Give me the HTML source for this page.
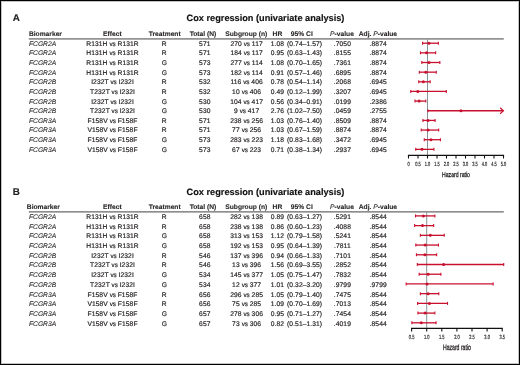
<!DOCTYPE html>
<html><head><meta charset="utf-8"><style>
html,body{margin:0;padding:0;background:#fff;}
body{width:520px;height:365px;overflow:hidden;}
svg{display:block;will-change:transform;}
text{font-family:"Liberation Sans",sans-serif;fill:#231f20;text-rendering:geometricPrecision;}
.lab{text-rendering:geometricPrecision;font-size:9.8px;font-weight:bold;stroke:#231f20;stroke-width:0.2px;}
.ttl{font-size:9.2px;font-weight:bold;fill:#111;stroke:#111;stroke-width:0.15px;}
.h{font-size:6.7px;font-weight:bold;stroke:#231f20;stroke-width:0.1px;}
.d{font-size:6.7px;letter-spacing:0.08px;stroke:#231f20;stroke-width:0.18px;}
.vs{font-size:6.3px;letter-spacing:-0.1px;}
.tk{font-size:6.0px;stroke:#231f20;stroke-width:0.2px;}
.hz{font-size:6.8px;stroke:#231f20;stroke-width:0.3px;}
</style></head><body>
<svg width="520" height="365" viewBox="0 0 520 365">
<rect x="0" y="0" width="520" height="365" fill="#fff"/>
<text x="12.8" y="20.60" class="lab">A</text>
<text x="186.6" y="20.80" class="ttl">Cox regression (univariate analysis)</text>
<text x="28.9" y="35.85" class="h">Biomarker</text>
<text x="112.4" y="35.85" class="h" text-anchor="middle">Effect</text>
<text x="164.7" y="35.85" class="h" text-anchor="middle">Treatment</text>
<text x="203.0" y="35.85" class="h" text-anchor="middle">Total (N)</text>
<text x="246.3" y="35.85" class="h" text-anchor="middle">Subgroup (n)</text>
<text x="277.4" y="35.85" class="h" text-anchor="middle">HR</text>
<text x="301.8" y="35.85" class="h" text-anchor="middle">95% CI</text>
<text x="342.0" y="35.85" class="h" text-anchor="middle"><tspan font-style="italic" font-weight="normal">P</tspan>-value</text>
<text x="377.9" y="35.85" class="h" text-anchor="middle">Adj. <tspan font-style="italic" font-weight="normal">P</tspan>-value</text>
<rect x="28.8" y="38.15" width="475.00" height="1.5" fill="#828282"/>
<rect x="427.00" y="39.40" width="1.0" height="115.90" fill="#85939a"/>
<text x="29" y="45.80" class="d" style="letter-spacing:0;stroke-width:0.08px" font-style="italic">FCGR2A</text>
<text x="112.5" y="45.80" class="d" text-anchor="middle">R131H <tspan class="vs">vs</tspan> R131R</text>
<text x="164.3" y="45.80" class="d" text-anchor="middle">R</text>
<text x="204.8" y="45.80" class="d" text-anchor="middle">571</text>
<text x="246.6" y="45.80" class="d" text-anchor="middle">270 <tspan class="vs">vs</tspan> 117</text>
<text x="277.5" y="45.80" class="d" text-anchor="middle">1.08</text>
<text x="304.6" y="45.80" class="d" text-anchor="middle">(0.74–1.57)</text>
<text x="342.4" y="45.80" class="d" text-anchor="middle">.7050</text>
<text x="378.2" y="45.80" class="d" text-anchor="middle">.8874</text>
<line x1="422.56" y1="43.20" x2="438.33" y2="43.20" stroke="#c8102e" stroke-width="1.3"/>
<line x1="422.56" y1="41.70" x2="422.56" y2="44.70" stroke="#c8102e" stroke-width="1.1"/>
<line x1="438.33" y1="41.70" x2="438.33" y2="44.70" stroke="#c8102e" stroke-width="1.1"/>
<circle cx="429.02" cy="43.20" r="1.5" fill="#c8102e"/>
<text x="29" y="55.42" class="d" style="letter-spacing:0;stroke-width:0.08px" font-style="italic">FCGR2A</text>
<text x="112.5" y="55.42" class="d" text-anchor="middle">H131H <tspan class="vs">vs</tspan> R131R</text>
<text x="164.3" y="55.42" class="d" text-anchor="middle">R</text>
<text x="204.8" y="55.42" class="d" text-anchor="middle">571</text>
<text x="246.6" y="55.42" class="d" text-anchor="middle">184 <tspan class="vs">vs</tspan> 117</text>
<text x="277.5" y="55.42" class="d" text-anchor="middle">0.95</text>
<text x="304.6" y="55.42" class="d" text-anchor="middle">(0.63–1.43)</text>
<text x="342.4" y="55.42" class="d" text-anchor="middle">.8155</text>
<text x="378.2" y="55.42" class="d" text-anchor="middle">.8874</text>
<line x1="420.47" y1="52.85" x2="435.67" y2="52.85" stroke="#c8102e" stroke-width="1.3"/>
<line x1="420.47" y1="51.35" x2="420.47" y2="54.35" stroke="#c8102e" stroke-width="1.1"/>
<line x1="435.67" y1="51.35" x2="435.67" y2="54.35" stroke="#c8102e" stroke-width="1.1"/>
<circle cx="426.55" cy="52.85" r="1.5" fill="#c8102e"/>
<text x="29" y="65.04" class="d" style="letter-spacing:0;stroke-width:0.08px" font-style="italic">FCGR2A</text>
<text x="112.5" y="65.04" class="d" text-anchor="middle">R131H <tspan class="vs">vs</tspan> R131R</text>
<text x="164.3" y="65.04" class="d" text-anchor="middle">G</text>
<text x="204.8" y="65.04" class="d" text-anchor="middle">573</text>
<text x="246.6" y="65.04" class="d" text-anchor="middle">277 <tspan class="vs">vs</tspan> 114</text>
<text x="277.5" y="65.04" class="d" text-anchor="middle">1.08</text>
<text x="304.6" y="65.04" class="d" text-anchor="middle">(0.70–1.65)</text>
<text x="342.4" y="65.04" class="d" text-anchor="middle">.7361</text>
<text x="378.2" y="65.04" class="d" text-anchor="middle">.8874</text>
<line x1="421.80" y1="62.50" x2="439.85" y2="62.50" stroke="#c8102e" stroke-width="1.3"/>
<line x1="421.80" y1="61.00" x2="421.80" y2="64.00" stroke="#c8102e" stroke-width="1.1"/>
<line x1="439.85" y1="61.00" x2="439.85" y2="64.00" stroke="#c8102e" stroke-width="1.1"/>
<circle cx="429.02" cy="62.50" r="1.5" fill="#c8102e"/>
<text x="29" y="74.66" class="d" style="letter-spacing:0;stroke-width:0.08px" font-style="italic">FCGR2A</text>
<text x="112.5" y="74.66" class="d" text-anchor="middle">H131H <tspan class="vs">vs</tspan> R131R</text>
<text x="164.3" y="74.66" class="d" text-anchor="middle">G</text>
<text x="204.8" y="74.66" class="d" text-anchor="middle">573</text>
<text x="246.6" y="74.66" class="d" text-anchor="middle">182 <tspan class="vs">vs</tspan> 114</text>
<text x="277.5" y="74.66" class="d" text-anchor="middle">0.91</text>
<text x="304.6" y="74.66" class="d" text-anchor="middle">(0.57–1.46)</text>
<text x="342.4" y="74.66" class="d" text-anchor="middle">.6895</text>
<text x="378.2" y="74.66" class="d" text-anchor="middle">.8874</text>
<line x1="419.33" y1="72.15" x2="436.24" y2="72.15" stroke="#c8102e" stroke-width="1.3"/>
<line x1="419.33" y1="70.65" x2="419.33" y2="73.65" stroke="#c8102e" stroke-width="1.1"/>
<line x1="436.24" y1="70.65" x2="436.24" y2="73.65" stroke="#c8102e" stroke-width="1.1"/>
<circle cx="425.79" cy="72.15" r="1.5" fill="#c8102e"/>
<text x="29" y="84.28" class="d" style="letter-spacing:0;stroke-width:0.08px" font-style="italic">FCGR2B</text>
<text x="112.5" y="84.28" class="d" text-anchor="middle">I232T <tspan class="vs">vs</tspan> I232I</text>
<text x="164.3" y="84.28" class="d" text-anchor="middle">R</text>
<text x="204.8" y="84.28" class="d" text-anchor="middle">532</text>
<text x="246.6" y="84.28" class="d" text-anchor="middle">116 <tspan class="vs">vs</tspan> 406</text>
<text x="277.5" y="84.28" class="d" text-anchor="middle">0.78</text>
<text x="304.6" y="84.28" class="d" text-anchor="middle">(0.54–1.14)</text>
<text x="342.4" y="84.28" class="d" text-anchor="middle">.2068</text>
<text x="378.2" y="84.28" class="d" text-anchor="middle">.6945</text>
<line x1="418.76" y1="81.80" x2="430.16" y2="81.80" stroke="#c8102e" stroke-width="1.3"/>
<line x1="418.76" y1="80.30" x2="418.76" y2="83.30" stroke="#c8102e" stroke-width="1.1"/>
<line x1="430.16" y1="80.30" x2="430.16" y2="83.30" stroke="#c8102e" stroke-width="1.1"/>
<circle cx="423.32" cy="81.80" r="1.5" fill="#c8102e"/>
<text x="29" y="93.90" class="d" style="letter-spacing:0;stroke-width:0.08px" font-style="italic">FCGR2B</text>
<text x="112.5" y="93.90" class="d" text-anchor="middle">T232T <tspan class="vs">vs</tspan> I232I</text>
<text x="164.3" y="93.90" class="d" text-anchor="middle">R</text>
<text x="204.8" y="93.90" class="d" text-anchor="middle">532</text>
<text x="246.6" y="93.90" class="d" text-anchor="middle">10 <tspan class="vs">vs</tspan> 406</text>
<text x="277.5" y="93.90" class="d" text-anchor="middle">0.49</text>
<text x="304.6" y="93.90" class="d" text-anchor="middle">(0.12–1.99)</text>
<text x="342.4" y="93.90" class="d" text-anchor="middle">.3207</text>
<text x="378.2" y="93.90" class="d" text-anchor="middle">.6945</text>
<line x1="410.78" y1="91.45" x2="446.31" y2="91.45" stroke="#c8102e" stroke-width="1.3"/>
<line x1="410.78" y1="89.95" x2="410.78" y2="92.95" stroke="#c8102e" stroke-width="1.1"/>
<line x1="446.31" y1="89.95" x2="446.31" y2="92.95" stroke="#c8102e" stroke-width="1.1"/>
<circle cx="417.81" cy="91.45" r="1.5" fill="#c8102e"/>
<text x="29" y="103.52" class="d" style="letter-spacing:0;stroke-width:0.08px" font-style="italic">FCGR2B</text>
<text x="112.5" y="103.52" class="d" text-anchor="middle">I232T <tspan class="vs">vs</tspan> I232I</text>
<text x="164.3" y="103.52" class="d" text-anchor="middle">G</text>
<text x="204.8" y="103.52" class="d" text-anchor="middle">530</text>
<text x="246.6" y="103.52" class="d" text-anchor="middle">104 <tspan class="vs">vs</tspan> 417</text>
<text x="277.5" y="103.52" class="d" text-anchor="middle">0.56</text>
<text x="304.6" y="103.52" class="d" text-anchor="middle">(0.34–0.91)</text>
<text x="342.4" y="103.52" class="d" text-anchor="middle">.0199</text>
<text x="378.2" y="103.52" class="d" text-anchor="middle">.2386</text>
<line x1="414.96" y1="101.10" x2="425.79" y2="101.10" stroke="#c8102e" stroke-width="1.3"/>
<line x1="414.96" y1="99.60" x2="414.96" y2="102.60" stroke="#c8102e" stroke-width="1.1"/>
<line x1="425.79" y1="99.60" x2="425.79" y2="102.60" stroke="#c8102e" stroke-width="1.1"/>
<circle cx="419.14" cy="101.10" r="1.5" fill="#c8102e"/>
<text x="29" y="113.14" class="d" style="letter-spacing:0;stroke-width:0.08px" font-style="italic">FCGR2B</text>
<text x="112.5" y="113.14" class="d" text-anchor="middle">T232T <tspan class="vs">vs</tspan> I232I</text>
<text x="164.3" y="113.14" class="d" text-anchor="middle">G</text>
<text x="204.8" y="113.14" class="d" text-anchor="middle">530</text>
<text x="246.6" y="113.14" class="d" text-anchor="middle">9 <tspan class="vs">vs</tspan> 417</text>
<text x="277.5" y="113.14" class="d" text-anchor="middle">2.76</text>
<text x="304.6" y="113.14" class="d" text-anchor="middle">(1.02–7.50)</text>
<text x="342.4" y="113.14" class="d" text-anchor="middle">.0459</text>
<text x="378.2" y="113.14" class="d" text-anchor="middle">.2755</text>
<line x1="427.88" y1="110.75" x2="503.20" y2="110.75" stroke="#c8102e" stroke-width="1.3"/>
<path d="M500.10,107.75 L503.50,110.75 L500.10,113.75" fill="none" stroke="#c8102e" stroke-width="1.1"/>
<line x1="427.88" y1="109.25" x2="427.88" y2="112.25" stroke="#c8102e" stroke-width="1.1"/>
<circle cx="460.94" cy="110.75" r="1.5" fill="#c8102e"/>
<text x="29" y="122.76" class="d" style="letter-spacing:0;stroke-width:0.08px" font-style="italic">FCGR3A</text>
<text x="112.5" y="122.76" class="d" text-anchor="middle">F158V <tspan class="vs">vs</tspan> F158F</text>
<text x="164.3" y="122.76" class="d" text-anchor="middle">R</text>
<text x="204.8" y="122.76" class="d" text-anchor="middle">571</text>
<text x="246.6" y="122.76" class="d" text-anchor="middle">238 <tspan class="vs">vs</tspan> 256</text>
<text x="277.5" y="122.76" class="d" text-anchor="middle">1.03</text>
<text x="304.6" y="122.76" class="d" text-anchor="middle">(0.76–1.40)</text>
<text x="342.4" y="122.76" class="d" text-anchor="middle">.8509</text>
<text x="378.2" y="122.76" class="d" text-anchor="middle">.8874</text>
<line x1="422.94" y1="120.40" x2="435.10" y2="120.40" stroke="#c8102e" stroke-width="1.3"/>
<line x1="422.94" y1="118.90" x2="422.94" y2="121.90" stroke="#c8102e" stroke-width="1.1"/>
<line x1="435.10" y1="118.90" x2="435.10" y2="121.90" stroke="#c8102e" stroke-width="1.1"/>
<circle cx="428.07" cy="120.40" r="1.5" fill="#c8102e"/>
<text x="29" y="132.38" class="d" style="letter-spacing:0;stroke-width:0.08px" font-style="italic">FCGR3A</text>
<text x="112.5" y="132.38" class="d" text-anchor="middle">V158V <tspan class="vs">vs</tspan> F158F</text>
<text x="164.3" y="132.38" class="d" text-anchor="middle">R</text>
<text x="204.8" y="132.38" class="d" text-anchor="middle">571</text>
<text x="246.6" y="132.38" class="d" text-anchor="middle">77 <tspan class="vs">vs</tspan> 256</text>
<text x="277.5" y="132.38" class="d" text-anchor="middle">1.03</text>
<text x="304.6" y="132.38" class="d" text-anchor="middle">(0.67–1.59)</text>
<text x="342.4" y="132.38" class="d" text-anchor="middle">.8874</text>
<text x="378.2" y="132.38" class="d" text-anchor="middle">.8874</text>
<line x1="421.23" y1="130.05" x2="438.71" y2="130.05" stroke="#c8102e" stroke-width="1.3"/>
<line x1="421.23" y1="128.55" x2="421.23" y2="131.55" stroke="#c8102e" stroke-width="1.1"/>
<line x1="438.71" y1="128.55" x2="438.71" y2="131.55" stroke="#c8102e" stroke-width="1.1"/>
<circle cx="428.07" cy="130.05" r="1.5" fill="#c8102e"/>
<text x="29" y="142.00" class="d" style="letter-spacing:0;stroke-width:0.08px" font-style="italic">FCGR3A</text>
<text x="112.5" y="142.00" class="d" text-anchor="middle">F158V <tspan class="vs">vs</tspan> F158F</text>
<text x="164.3" y="142.00" class="d" text-anchor="middle">G</text>
<text x="204.8" y="142.00" class="d" text-anchor="middle">573</text>
<text x="246.6" y="142.00" class="d" text-anchor="middle">283 <tspan class="vs">vs</tspan> 223</text>
<text x="277.5" y="142.00" class="d" text-anchor="middle">1.18</text>
<text x="304.6" y="142.00" class="d" text-anchor="middle">(0.83–1.68)</text>
<text x="342.4" y="142.00" class="d" text-anchor="middle">.3472</text>
<text x="378.2" y="142.00" class="d" text-anchor="middle">.6945</text>
<line x1="424.27" y1="139.70" x2="440.42" y2="139.70" stroke="#c8102e" stroke-width="1.3"/>
<line x1="424.27" y1="138.20" x2="424.27" y2="141.20" stroke="#c8102e" stroke-width="1.1"/>
<line x1="440.42" y1="138.20" x2="440.42" y2="141.20" stroke="#c8102e" stroke-width="1.1"/>
<circle cx="430.92" cy="139.70" r="1.5" fill="#c8102e"/>
<text x="29" y="151.62" class="d" style="letter-spacing:0;stroke-width:0.08px" font-style="italic">FCGR3A</text>
<text x="112.5" y="151.62" class="d" text-anchor="middle">V158V <tspan class="vs">vs</tspan> F158F</text>
<text x="164.3" y="151.62" class="d" text-anchor="middle">G</text>
<text x="204.8" y="151.62" class="d" text-anchor="middle">573</text>
<text x="246.6" y="151.62" class="d" text-anchor="middle">67 <tspan class="vs">vs</tspan> 223</text>
<text x="277.5" y="151.62" class="d" text-anchor="middle">0.71</text>
<text x="304.6" y="151.62" class="d" text-anchor="middle">(0.38–1.34)</text>
<text x="342.4" y="151.62" class="d" text-anchor="middle">.2937</text>
<text x="378.2" y="151.62" class="d" text-anchor="middle">.6945</text>
<line x1="415.72" y1="149.35" x2="433.96" y2="149.35" stroke="#c8102e" stroke-width="1.3"/>
<line x1="415.72" y1="147.85" x2="415.72" y2="150.85" stroke="#c8102e" stroke-width="1.1"/>
<line x1="433.96" y1="147.85" x2="433.96" y2="150.85" stroke="#c8102e" stroke-width="1.1"/>
<circle cx="421.99" cy="149.35" r="1.5" fill="#c8102e"/>
<line x1="407.90" y1="155.30" x2="504.10" y2="155.30" stroke="#111" stroke-width="1.3"/>
<line x1="408.50" y1="155.30" x2="408.50" y2="158.50" stroke="#111" stroke-width="1.1"/>
<text transform="translate(408.50,166.10) scale(0.66,1)" class="tk" text-anchor="middle">0</text>
<line x1="418.00" y1="155.30" x2="418.00" y2="158.50" stroke="#111" stroke-width="1.1"/>
<text transform="translate(418.00,166.10) scale(0.66,1)" class="tk" text-anchor="middle">0.5</text>
<line x1="427.50" y1="155.30" x2="427.50" y2="158.50" stroke="#111" stroke-width="1.1"/>
<text transform="translate(427.50,166.10) scale(0.66,1)" class="tk" text-anchor="middle">1.0</text>
<line x1="437.00" y1="155.30" x2="437.00" y2="158.50" stroke="#111" stroke-width="1.1"/>
<text transform="translate(437.00,166.10) scale(0.66,1)" class="tk" text-anchor="middle">1.5</text>
<line x1="446.50" y1="155.30" x2="446.50" y2="158.50" stroke="#111" stroke-width="1.1"/>
<text transform="translate(446.50,166.10) scale(0.66,1)" class="tk" text-anchor="middle">2.0</text>
<line x1="456.00" y1="155.30" x2="456.00" y2="158.50" stroke="#111" stroke-width="1.1"/>
<text transform="translate(456.00,166.10) scale(0.66,1)" class="tk" text-anchor="middle">2.5</text>
<line x1="465.50" y1="155.30" x2="465.50" y2="158.50" stroke="#111" stroke-width="1.1"/>
<text transform="translate(465.50,166.10) scale(0.66,1)" class="tk" text-anchor="middle">3.0</text>
<line x1="475.00" y1="155.30" x2="475.00" y2="158.50" stroke="#111" stroke-width="1.1"/>
<text transform="translate(475.00,166.10) scale(0.66,1)" class="tk" text-anchor="middle">3.5</text>
<line x1="484.50" y1="155.30" x2="484.50" y2="158.50" stroke="#111" stroke-width="1.1"/>
<text transform="translate(484.50,166.10) scale(0.66,1)" class="tk" text-anchor="middle">4.0</text>
<line x1="494.00" y1="155.30" x2="494.00" y2="158.50" stroke="#111" stroke-width="1.1"/>
<text transform="translate(494.00,166.10) scale(0.66,1)" class="tk" text-anchor="middle">4.5</text>
<line x1="503.50" y1="155.30" x2="503.50" y2="158.50" stroke="#111" stroke-width="1.1"/>
<text transform="translate(503.50,166.10) scale(0.66,1)" class="tk" text-anchor="middle">5.0</text>
<text transform="translate(456.00,176.80) scale(0.72,1)" class="hz" style="font-size:7.1px" text-anchor="middle">Hazard ratio</text>
<text x="12.8" y="194.70" class="lab">B</text>
<text x="186.6" y="194.90" class="ttl">Cox regression (univariate analysis)</text>
<text x="26.8" y="209.45" class="h">Biomarker</text>
<text x="112.4" y="209.45" class="h" text-anchor="middle">Effect</text>
<text x="164.7" y="209.45" class="h" text-anchor="middle">Treatment</text>
<text x="203.0" y="209.45" class="h" text-anchor="middle">Total (N)</text>
<text x="246.3" y="209.45" class="h" text-anchor="middle">Subgroup (n)</text>
<text x="277.4" y="209.45" class="h" text-anchor="middle">HR</text>
<text x="301.8" y="209.45" class="h" text-anchor="middle">95% CI</text>
<text x="342.0" y="209.45" class="h" text-anchor="middle"><tspan font-style="italic" font-weight="normal">P</tspan>-value</text>
<text x="377.9" y="209.45" class="h" text-anchor="middle">Adj. <tspan font-style="italic" font-weight="normal">P</tspan>-value</text>
<rect x="28.8" y="211.10" width="475.00" height="1.5" fill="#828282"/>
<rect x="426.20" y="212.35" width="1.0" height="116.05" fill="#85939a"/>
<text x="29" y="219.00" class="d" style="letter-spacing:0;stroke-width:0.08px" font-style="italic">FCGR2A</text>
<text x="112.5" y="219.00" class="d" text-anchor="middle">R131H <tspan class="vs">vs</tspan> R131R</text>
<text x="164.3" y="219.00" class="d" text-anchor="middle">R</text>
<text x="204.8" y="219.00" class="d" text-anchor="middle">658</text>
<text x="246.6" y="219.00" class="d" text-anchor="middle">282 <tspan class="vs">vs</tspan> 138</text>
<text x="277.5" y="219.00" class="d" text-anchor="middle">0.89</text>
<text x="304.6" y="219.00" class="d" text-anchor="middle">(0.63–1.27)</text>
<text x="342.4" y="219.00" class="d" text-anchor="middle">.5291</text>
<text x="378.2" y="219.00" class="d" text-anchor="middle">.8544</text>
<line x1="415.53" y1="215.90" x2="434.85" y2="215.90" stroke="#c8102e" stroke-width="1.3"/>
<line x1="415.53" y1="214.40" x2="415.53" y2="217.40" stroke="#c8102e" stroke-width="1.1"/>
<line x1="434.85" y1="214.40" x2="434.85" y2="217.40" stroke="#c8102e" stroke-width="1.1"/>
<circle cx="423.38" cy="215.90" r="1.5" fill="#c8102e"/>
<text x="29" y="228.69" class="d" style="letter-spacing:0;stroke-width:0.08px" font-style="italic">FCGR2A</text>
<text x="112.5" y="228.69" class="d" text-anchor="middle">H131H <tspan class="vs">vs</tspan> R131R</text>
<text x="164.3" y="228.69" class="d" text-anchor="middle">R</text>
<text x="204.8" y="228.69" class="d" text-anchor="middle">658</text>
<text x="246.6" y="228.69" class="d" text-anchor="middle">238 <tspan class="vs">vs</tspan> 138</text>
<text x="277.5" y="228.69" class="d" text-anchor="middle">0.86</text>
<text x="304.6" y="228.69" class="d" text-anchor="middle">(0.60–1.23)</text>
<text x="342.4" y="228.69" class="d" text-anchor="middle">.4088</text>
<text x="378.2" y="228.69" class="d" text-anchor="middle">.8544</text>
<line x1="414.62" y1="225.62" x2="433.65" y2="225.62" stroke="#c8102e" stroke-width="1.3"/>
<line x1="414.62" y1="224.12" x2="414.62" y2="227.12" stroke="#c8102e" stroke-width="1.1"/>
<line x1="433.65" y1="224.12" x2="433.65" y2="227.12" stroke="#c8102e" stroke-width="1.1"/>
<circle cx="422.47" cy="225.62" r="1.5" fill="#c8102e"/>
<text x="29" y="238.38" class="d" style="letter-spacing:0;stroke-width:0.08px" font-style="italic">FCGR2A</text>
<text x="112.5" y="238.38" class="d" text-anchor="middle">R131H <tspan class="vs">vs</tspan> R131R</text>
<text x="164.3" y="238.38" class="d" text-anchor="middle">G</text>
<text x="204.8" y="238.38" class="d" text-anchor="middle">658</text>
<text x="246.6" y="238.38" class="d" text-anchor="middle">313 <tspan class="vs">vs</tspan> 153</text>
<text x="277.5" y="238.38" class="d" text-anchor="middle">1.12</text>
<text x="304.6" y="238.38" class="d" text-anchor="middle">(0.79–1.58)</text>
<text x="342.4" y="238.38" class="d" text-anchor="middle">.5241</text>
<text x="378.2" y="238.38" class="d" text-anchor="middle">.8544</text>
<line x1="420.36" y1="235.34" x2="444.22" y2="235.34" stroke="#c8102e" stroke-width="1.3"/>
<line x1="420.36" y1="233.84" x2="420.36" y2="236.84" stroke="#c8102e" stroke-width="1.1"/>
<line x1="444.22" y1="233.84" x2="444.22" y2="236.84" stroke="#c8102e" stroke-width="1.1"/>
<circle cx="430.32" cy="235.34" r="1.5" fill="#c8102e"/>
<text x="29" y="248.07" class="d" style="letter-spacing:0;stroke-width:0.08px" font-style="italic">FCGR2A</text>
<text x="112.5" y="248.07" class="d" text-anchor="middle">H131H <tspan class="vs">vs</tspan> R131R</text>
<text x="164.3" y="248.07" class="d" text-anchor="middle">G</text>
<text x="204.8" y="248.07" class="d" text-anchor="middle">658</text>
<text x="246.6" y="248.07" class="d" text-anchor="middle">192 <tspan class="vs">vs</tspan> 153</text>
<text x="277.5" y="248.07" class="d" text-anchor="middle">0.95</text>
<text x="304.6" y="248.07" class="d" text-anchor="middle">(0.64–1.39)</text>
<text x="342.4" y="248.07" class="d" text-anchor="middle">.7811</text>
<text x="378.2" y="248.07" class="d" text-anchor="middle">.8544</text>
<line x1="415.83" y1="245.06" x2="438.48" y2="245.06" stroke="#c8102e" stroke-width="1.3"/>
<line x1="415.83" y1="243.56" x2="415.83" y2="246.56" stroke="#c8102e" stroke-width="1.1"/>
<line x1="438.48" y1="243.56" x2="438.48" y2="246.56" stroke="#c8102e" stroke-width="1.1"/>
<circle cx="425.19" cy="245.06" r="1.5" fill="#c8102e"/>
<text x="29" y="257.76" class="d" style="letter-spacing:0;stroke-width:0.08px" font-style="italic">FCGR2B</text>
<text x="112.5" y="257.76" class="d" text-anchor="middle">I232T <tspan class="vs">vs</tspan> I232I</text>
<text x="164.3" y="257.76" class="d" text-anchor="middle">R</text>
<text x="204.8" y="257.76" class="d" text-anchor="middle">546</text>
<text x="246.6" y="257.76" class="d" text-anchor="middle">137 <tspan class="vs">vs</tspan> 396</text>
<text x="277.5" y="257.76" class="d" text-anchor="middle">0.94</text>
<text x="304.6" y="257.76" class="d" text-anchor="middle">(0.66–1.33)</text>
<text x="342.4" y="257.76" class="d" text-anchor="middle">.7101</text>
<text x="378.2" y="257.76" class="d" text-anchor="middle">.8544</text>
<line x1="416.43" y1="254.78" x2="436.67" y2="254.78" stroke="#c8102e" stroke-width="1.3"/>
<line x1="416.43" y1="253.28" x2="416.43" y2="256.28" stroke="#c8102e" stroke-width="1.1"/>
<line x1="436.67" y1="253.28" x2="436.67" y2="256.28" stroke="#c8102e" stroke-width="1.1"/>
<circle cx="424.89" cy="254.78" r="1.5" fill="#c8102e"/>
<text x="29" y="267.45" class="d" style="letter-spacing:0;stroke-width:0.08px" font-style="italic">FCGR2B</text>
<text x="112.5" y="267.45" class="d" text-anchor="middle">T232T <tspan class="vs">vs</tspan> I232I</text>
<text x="164.3" y="267.45" class="d" text-anchor="middle">R</text>
<text x="204.8" y="267.45" class="d" text-anchor="middle">546</text>
<text x="246.6" y="267.45" class="d" text-anchor="middle">13 <tspan class="vs">vs</tspan> 396</text>
<text x="277.5" y="267.45" class="d" text-anchor="middle">1.56</text>
<text x="304.6" y="267.45" class="d" text-anchor="middle">(0.69–3.55)</text>
<text x="342.4" y="267.45" class="d" text-anchor="middle">.2852</text>
<text x="378.2" y="267.45" class="d" text-anchor="middle">.8544</text>
<line x1="417.34" y1="264.50" x2="503.71" y2="264.50" stroke="#c8102e" stroke-width="1.3"/>
<line x1="417.34" y1="263.00" x2="417.34" y2="266.00" stroke="#c8102e" stroke-width="1.1"/>
<line x1="503.71" y1="263.00" x2="503.71" y2="266.00" stroke="#c8102e" stroke-width="1.1"/>
<circle cx="443.61" cy="264.50" r="1.5" fill="#c8102e"/>
<text x="29" y="277.14" class="d" style="letter-spacing:0;stroke-width:0.08px" font-style="italic">FCGR2B</text>
<text x="112.5" y="277.14" class="d" text-anchor="middle">I232T <tspan class="vs">vs</tspan> I232I</text>
<text x="164.3" y="277.14" class="d" text-anchor="middle">G</text>
<text x="204.8" y="277.14" class="d" text-anchor="middle">534</text>
<text x="246.6" y="277.14" class="d" text-anchor="middle">145 <tspan class="vs">vs</tspan> 377</text>
<text x="277.5" y="277.14" class="d" text-anchor="middle">1.05</text>
<text x="304.6" y="277.14" class="d" text-anchor="middle">(0.75–1.47)</text>
<text x="342.4" y="277.14" class="d" text-anchor="middle">.7832</text>
<text x="378.2" y="277.14" class="d" text-anchor="middle">.8544</text>
<line x1="419.15" y1="274.22" x2="440.89" y2="274.22" stroke="#c8102e" stroke-width="1.3"/>
<line x1="419.15" y1="272.72" x2="419.15" y2="275.72" stroke="#c8102e" stroke-width="1.1"/>
<line x1="440.89" y1="272.72" x2="440.89" y2="275.72" stroke="#c8102e" stroke-width="1.1"/>
<circle cx="428.21" cy="274.22" r="1.5" fill="#c8102e"/>
<text x="29" y="286.83" class="d" style="letter-spacing:0;stroke-width:0.08px" font-style="italic">FCGR2B</text>
<text x="112.5" y="286.83" class="d" text-anchor="middle">T232T <tspan class="vs">vs</tspan> I232I</text>
<text x="164.3" y="286.83" class="d" text-anchor="middle">G</text>
<text x="204.8" y="286.83" class="d" text-anchor="middle">534</text>
<text x="246.6" y="286.83" class="d" text-anchor="middle">12 <tspan class="vs">vs</tspan> 377</text>
<text x="277.5" y="286.83" class="d" text-anchor="middle">1.01</text>
<text x="304.6" y="286.83" class="d" text-anchor="middle">(0.32–3.20)</text>
<text x="342.4" y="286.83" class="d" text-anchor="middle">.9799</text>
<text x="378.2" y="286.83" class="d" text-anchor="middle">.9799</text>
<line x1="406.16" y1="283.94" x2="493.14" y2="283.94" stroke="#c8102e" stroke-width="1.3"/>
<line x1="406.16" y1="282.44" x2="406.16" y2="285.44" stroke="#c8102e" stroke-width="1.1"/>
<line x1="493.14" y1="282.44" x2="493.14" y2="285.44" stroke="#c8102e" stroke-width="1.1"/>
<circle cx="427.00" cy="283.94" r="1.5" fill="#c8102e"/>
<text x="29" y="296.52" class="d" style="letter-spacing:0;stroke-width:0.08px" font-style="italic">FCGR3A</text>
<text x="112.5" y="296.52" class="d" text-anchor="middle">F158V <tspan class="vs">vs</tspan> F158F</text>
<text x="164.3" y="296.52" class="d" text-anchor="middle">R</text>
<text x="204.8" y="296.52" class="d" text-anchor="middle">656</text>
<text x="246.6" y="296.52" class="d" text-anchor="middle">296 <tspan class="vs">vs</tspan> 285</text>
<text x="277.5" y="296.52" class="d" text-anchor="middle">1.05</text>
<text x="304.6" y="296.52" class="d" text-anchor="middle">(0.79–1.40)</text>
<text x="342.4" y="296.52" class="d" text-anchor="middle">.7475</text>
<text x="378.2" y="296.52" class="d" text-anchor="middle">.8544</text>
<line x1="420.36" y1="293.66" x2="438.78" y2="293.66" stroke="#c8102e" stroke-width="1.3"/>
<line x1="420.36" y1="292.16" x2="420.36" y2="295.16" stroke="#c8102e" stroke-width="1.1"/>
<line x1="438.78" y1="292.16" x2="438.78" y2="295.16" stroke="#c8102e" stroke-width="1.1"/>
<circle cx="428.21" cy="293.66" r="1.5" fill="#c8102e"/>
<text x="29" y="306.21" class="d" style="letter-spacing:0;stroke-width:0.08px" font-style="italic">FCGR3A</text>
<text x="112.5" y="306.21" class="d" text-anchor="middle">V158V <tspan class="vs">vs</tspan> F158F</text>
<text x="164.3" y="306.21" class="d" text-anchor="middle">R</text>
<text x="204.8" y="306.21" class="d" text-anchor="middle">656</text>
<text x="246.6" y="306.21" class="d" text-anchor="middle">75 <tspan class="vs">vs</tspan> 285</text>
<text x="277.5" y="306.21" class="d" text-anchor="middle">1.09</text>
<text x="304.6" y="306.21" class="d" text-anchor="middle">(0.70–1.69)</text>
<text x="342.4" y="306.21" class="d" text-anchor="middle">.7013</text>
<text x="378.2" y="306.21" class="d" text-anchor="middle">.8544</text>
<line x1="417.64" y1="303.38" x2="447.54" y2="303.38" stroke="#c8102e" stroke-width="1.3"/>
<line x1="417.64" y1="301.88" x2="417.64" y2="304.88" stroke="#c8102e" stroke-width="1.1"/>
<line x1="447.54" y1="301.88" x2="447.54" y2="304.88" stroke="#c8102e" stroke-width="1.1"/>
<circle cx="429.42" cy="303.38" r="1.5" fill="#c8102e"/>
<text x="29" y="315.90" class="d" style="letter-spacing:0;stroke-width:0.08px" font-style="italic">FCGR3A</text>
<text x="112.5" y="315.90" class="d" text-anchor="middle">F158V <tspan class="vs">vs</tspan> F158F</text>
<text x="164.3" y="315.90" class="d" text-anchor="middle">G</text>
<text x="204.8" y="315.90" class="d" text-anchor="middle">657</text>
<text x="246.6" y="315.90" class="d" text-anchor="middle">278 <tspan class="vs">vs</tspan> 306</text>
<text x="277.5" y="315.90" class="d" text-anchor="middle">0.95</text>
<text x="304.6" y="315.90" class="d" text-anchor="middle">(0.71–1.27)</text>
<text x="342.4" y="315.90" class="d" text-anchor="middle">.7454</text>
<text x="378.2" y="315.90" class="d" text-anchor="middle">.8544</text>
<line x1="417.94" y1="313.10" x2="434.85" y2="313.10" stroke="#c8102e" stroke-width="1.3"/>
<line x1="417.94" y1="311.60" x2="417.94" y2="314.60" stroke="#c8102e" stroke-width="1.1"/>
<line x1="434.85" y1="311.60" x2="434.85" y2="314.60" stroke="#c8102e" stroke-width="1.1"/>
<circle cx="425.19" cy="313.10" r="1.5" fill="#c8102e"/>
<text x="29" y="325.59" class="d" style="letter-spacing:0;stroke-width:0.08px" font-style="italic">FCGR3A</text>
<text x="112.5" y="325.59" class="d" text-anchor="middle">V158V <tspan class="vs">vs</tspan> F158F</text>
<text x="164.3" y="325.59" class="d" text-anchor="middle">G</text>
<text x="204.8" y="325.59" class="d" text-anchor="middle">657</text>
<text x="246.6" y="325.59" class="d" text-anchor="middle">73 <tspan class="vs">vs</tspan> 306</text>
<text x="277.5" y="325.59" class="d" text-anchor="middle">0.82</text>
<text x="304.6" y="325.59" class="d" text-anchor="middle">(0.51–1.31)</text>
<text x="342.4" y="325.59" class="d" text-anchor="middle">.4019</text>
<text x="378.2" y="325.59" class="d" text-anchor="middle">.8544</text>
<line x1="411.90" y1="322.82" x2="436.06" y2="322.82" stroke="#c8102e" stroke-width="1.3"/>
<line x1="411.90" y1="321.32" x2="411.90" y2="324.32" stroke="#c8102e" stroke-width="1.1"/>
<line x1="436.06" y1="321.32" x2="436.06" y2="324.32" stroke="#c8102e" stroke-width="1.1"/>
<circle cx="421.26" cy="322.82" r="1.5" fill="#c8102e"/>
<line x1="411.00" y1="328.40" x2="502.80" y2="328.40" stroke="#111" stroke-width="1.3"/>
<line x1="411.60" y1="328.40" x2="411.60" y2="331.60" stroke="#111" stroke-width="1.1"/>
<text transform="translate(411.60,339.00) scale(0.66,1)" class="tk" text-anchor="middle">0.5</text>
<line x1="426.70" y1="328.40" x2="426.70" y2="331.60" stroke="#111" stroke-width="1.1"/>
<text transform="translate(426.70,339.00) scale(0.66,1)" class="tk" text-anchor="middle">1.0</text>
<line x1="441.80" y1="328.40" x2="441.80" y2="331.60" stroke="#111" stroke-width="1.1"/>
<text transform="translate(441.80,339.00) scale(0.66,1)" class="tk" text-anchor="middle">1.5</text>
<line x1="456.90" y1="328.40" x2="456.90" y2="331.60" stroke="#111" stroke-width="1.1"/>
<text transform="translate(456.90,339.00) scale(0.66,1)" class="tk" text-anchor="middle">2.0</text>
<line x1="472.00" y1="328.40" x2="472.00" y2="331.60" stroke="#111" stroke-width="1.1"/>
<text transform="translate(472.00,339.00) scale(0.66,1)" class="tk" text-anchor="middle">2.5</text>
<line x1="487.10" y1="328.40" x2="487.10" y2="331.60" stroke="#111" stroke-width="1.1"/>
<text transform="translate(487.10,339.00) scale(0.66,1)" class="tk" text-anchor="middle">3.0</text>
<line x1="502.20" y1="328.40" x2="502.20" y2="331.60" stroke="#111" stroke-width="1.1"/>
<text transform="translate(502.20,339.00) scale(0.66,1)" class="tk" text-anchor="middle">3.5</text>
<text transform="translate(456.90,349.70) scale(0.65,1)" class="hz" style="font-size:7.9px" text-anchor="middle">Hazard ratio</text>
<rect x="1.5" y="1.5" width="517" height="362" fill="none" stroke="#c4c4c4" stroke-width="1"/>
<rect x="0.5" y="0.5" width="519" height="364" fill="none" stroke="#000" stroke-width="1"/>
</svg>
</body></html>
